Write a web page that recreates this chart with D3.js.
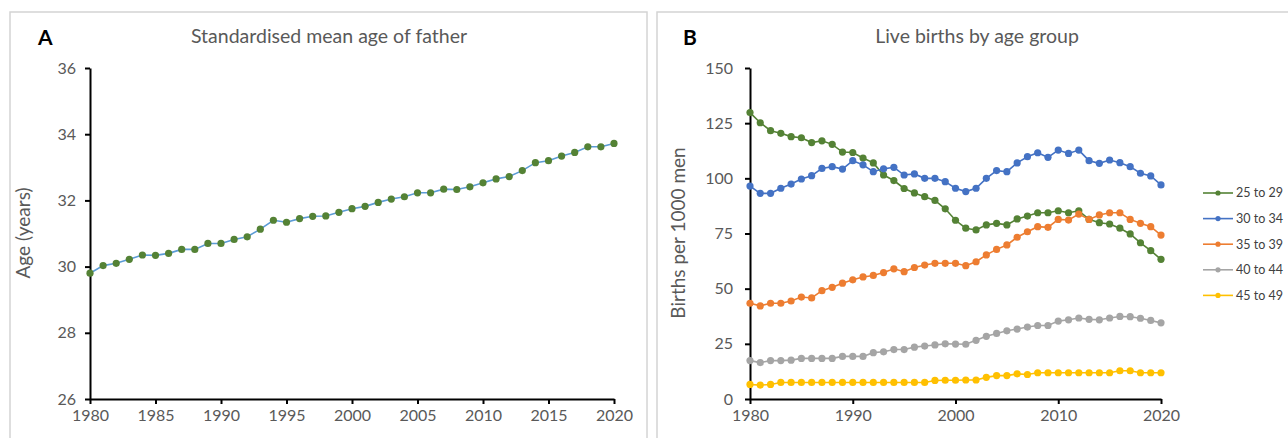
<!DOCTYPE html>
<html>
<head>
<meta charset="utf-8">
<script src="https://cdn.jsdelivr.net/npm/d3@7"></script>
<style>
  body { margin: 0; background: #fff; }
  text { font-family: Lato, "Open Sans", sans-serif; }
</style>
</head>
<body>
<div id="anchor-point"></div>
<script>
// two Excel-style panels: father's mean age, and births per age group

const years = d3.range(1980, 2021);

const father_age = [
  29.80, 30.03, 30.10, 30.22, 30.35, 30.34, 30.40, 30.52, 30.52, 30.70,
  30.70, 30.82, 30.90, 31.13, 31.40, 31.34, 31.45, 31.52, 31.53, 31.64,
  31.75, 31.82, 31.94, 32.04, 32.11, 32.23, 32.23, 32.34, 32.33, 32.41,
  32.53, 32.65, 32.72, 32.90, 33.14, 33.20, 33.34, 33.45, 33.62, 33.62,
  33.72
];

const age_groups = ["25 to 29", "30 to 34", "35 to 39", "40 to 44", "45 to 49"];

const births_25_29 = [
  129.8, 125.2, 121.6, 120.4, 118.9, 118.4, 116.2, 117.0, 115.4, 111.9,
  111.7, 109.2, 107.0, 101.5, 99.0, 95.4, 93.4, 91.7, 90.0, 86.2,
  81.0, 77.4, 76.6, 78.9, 79.6, 78.9, 81.6, 82.9, 84.4, 84.4,
  85.3, 84.4, 85.3, 81.4, 79.9, 79.3, 77.4, 74.8, 70.8, 67.2,
  63.3
];
const births_30_34 = [
  96.5, 93.2, 93.2, 95.5, 97.4, 99.7, 101.2, 104.5, 105.3, 104.2,
  108.0, 106.1, 103.0, 104.3, 105.0, 101.5, 102.0, 100.0, 100.0, 98.5,
  95.5, 94.0, 95.5, 100.0, 103.5, 103.0, 107.0, 109.8, 111.6, 109.5,
  112.8, 111.3, 112.8, 108.0, 106.8, 108.3, 107.1, 105.3, 102.3, 101.1,
  97.0
];
const births_35_39 = [
  43.4, 42.2, 43.4, 43.4, 44.4, 46.2, 45.8, 49.1, 50.6, 52.5,
  54.0, 55.3, 56.0, 57.3, 59.0, 57.7, 59.6, 60.7, 61.5, 61.5,
  61.5, 60.4, 62.2, 65.3, 67.8, 69.8, 73.3, 75.8, 78.1, 77.8,
  81.4, 81.1, 83.8, 81.4, 83.4, 84.4, 84.4, 81.4, 79.6, 78.1,
  74.3
];
const births_40_44 = [
  17.4, 16.5, 17.4, 17.4, 17.6, 18.4, 18.4, 18.4, 18.4, 19.3,
  19.3, 19.3, 21.0, 21.4, 22.4, 22.4, 23.5, 24.0, 24.5, 25.0,
  24.9, 24.8, 26.6, 28.4, 29.7, 30.9, 31.7, 32.6, 33.3, 33.3,
  35.3, 35.9, 36.7, 36.1, 35.9, 36.7, 37.4, 37.3, 36.6, 35.6,
  34.5
];
const births_45_49 = [
  6.6, 6.3, 6.6, 7.5, 7.5, 7.5, 7.5, 7.5, 7.5, 7.5,
  7.5, 7.5, 7.5, 7.5, 7.5, 7.5, 7.5, 7.5, 8.4, 8.5,
  8.5, 8.6, 8.6, 9.8, 10.6, 10.6, 11.4, 11.1, 11.9, 11.9,
  11.9, 11.9, 11.9, 11.9, 11.9, 11.9, 12.8, 12.8, 11.9, 11.9,
  11.9
];

const age_ticks = [26, 28, 30, 32, 34, 36];
const births_ticks = [0, 25, 50, 75, 100, 125, 150];
const year_ticks_a = d3.range(1980, 2021, 5);
const year_ticks_b = d3.range(1980, 2021, 10);

const series_colors = ["#548235", "#4472c4", "#ed7d31", "#a5a5a5", "#ffc000"];
const births_series = [births_25_29, births_30_34, births_35_39, births_40_44, births_45_49];

const width = 1288;
const height = 438;
const dot_r = 3.6;
const label_color = "#595959";

const svg = d3.select("#anchor-point")
  .append("svg")
  .attr("width", width)
  .attr("height", height);

svg.append("rect").attr("width", width).attr("height", height).attr("fill", "#fff");

// panel frames (they run off the bottom/right of the picture)
svg.append("rect")
  .attr("x", 10).attr("y", 12).attr("width", 637).attr("height", 440)
  .attr("fill", "none").attr("stroke", "#d4d4d4").attr("stroke-width", 1.5);
svg.append("rect")
  .attr("x", 657).attr("y", 12).attr("width", 650).attr("height", 440)
  .attr("fill", "none").attr("stroke", "#d4d4d4").attr("stroke-width", 1.5);

function styleAxis(g) {
  g.selectAll("path.domain").attr("stroke", "#000").attr("stroke-width", 2);
  g.selectAll(".tick line").attr("stroke", "#000").attr("stroke-width", 2);
  g.selectAll(".tick text")
    .attr("fill", label_color)
    .style("font-size", "16px");
}

//// panel A ////

const xa = d3.scaleLinear().domain([1980, 2020]).range([90, 614]);
const ya = d3.scaleLinear().domain([26, 36]).range([399, 68]);

svg.append("g")
  .attr("transform", "translate(90,0)")
  .call(d3.axisLeft(ya).tickValues(age_ticks).tickSize(5).tickPadding(9).tickSizeOuter(0))
  .call(styleAxis);

svg.append("g")
  .attr("transform", "translate(0,399)")
  .call(d3.axisBottom(xa).tickValues(year_ticks_a).tickFormat(d3.format("d")).tickSize(5).tickPadding(6).tickSizeOuter(0))
  .call(styleAxis);

const line_a = d3.line()
  .x((d, i) => xa(years[i]))
  .y(d => ya(d));

svg.append("path")
  .datum(father_age)
  .attr("d", line_a)
  .attr("fill", "none")
  .attr("stroke", "#5b9bd5")
  .attr("stroke-width", 1.6);

svg.append("g")
  .selectAll("circle")
  .data(father_age)
  .enter()
  .append("circle")
  .attr("cx", (d, i) => xa(years[i]))
  .attr("cy", d => ya(d))
  .attr("r", dot_r)
  .attr("fill", "#548235");

svg.append("text")
  .attr("x", 38).attr("y", 45)
  .attr("font-size", 21).attr("font-weight", "bold")
  .attr("fill", "#000")
  .text("A");

svg.append("text")
  .attr("x", 329).attr("y", 43)
  .attr("text-anchor", "middle")
  .attr("font-size", 19.5)
  .attr("fill", label_color)
  .text("Standardised mean age of father");

svg.append("text")
  .attr("transform", "translate(30,233) rotate(-90)")
  .attr("text-anchor", "middle")
  .attr("font-size", 19)
  .attr("fill", label_color)
  .text("Age (years)");

//// panel B ////

const xb = d3.scaleLinear().domain([1980, 2020]).range([750, 1161]);
const yb = d3.scaleLinear().domain([0, 150]).range([399, 68]);

svg.append("g")
  .attr("transform", "translate(750,0)")
  .call(d3.axisLeft(yb).tickValues(births_ticks).tickSize(5).tickPadding(12).tickSizeOuter(0))
  .call(styleAxis);

svg.append("g")
  .attr("transform", "translate(0,399)")
  .call(d3.axisBottom(xb).tickValues(year_ticks_b).tickFormat(d3.format("d")).tickSize(5).tickPadding(6).tickSizeOuter(0))
  .call(styleAxis);

const line_b = d3.line()
  .x((d, i) => xb(years[i]))
  .y(d => yb(d));

births_series.forEach((series, k) => {
  const g = svg.append("g");
  g.append("path")
    .datum(series)
    .attr("d", line_b)
    .attr("fill", "none")
    .attr("stroke", series_colors[k])
    .attr("stroke-width", 1.6);
  g.selectAll("circle")
    .data(series)
    .enter()
    .append("circle")
    .attr("cx", (d, i) => xb(years[i]))
    .attr("cy", d => yb(d))
    .attr("r", dot_r)
    .attr("fill", series_colors[k]);
});

svg.append("text")
  .attr("x", 683).attr("y", 45)
  .attr("font-size", 21).attr("font-weight", "bold")
  .attr("fill", "#000")
  .text("B");

svg.append("text")
  .attr("x", 977).attr("y", 43)
  .attr("text-anchor", "middle")
  .attr("font-size", 19.5)
  .attr("fill", label_color)
  .text("Live births by age group");

svg.append("text")
  .attr("transform", "translate(685,233) rotate(-90)")
  .attr("text-anchor", "middle")
  .attr("font-size", 19)
  .attr("fill", label_color)
  .text("Births per 1000 men");

// legend
const legend = svg.append("g")
  .selectAll("g")
  .data(age_groups)
  .enter()
  .append("g")
  .attr("transform", (d, i) => `translate(1203, ${193 + i * 25.6})`);

legend.append("line")
  .attr("x1", 0).attr("x2", 30)
  .attr("stroke", (d, i) => series_colors[i])
  .attr("stroke-width", 1.6);

legend.append("circle")
  .attr("cx", 15).attr("r", 2.6)
  .attr("fill", (d, i) => series_colors[i]);

legend.append("text")
  .attr("x", 33).attr("dy", "0.35em")
  .attr("font-size", 12.5)
  .attr("fill", "#404040")
  .text(d => d);
</script>
</body>
</html>
